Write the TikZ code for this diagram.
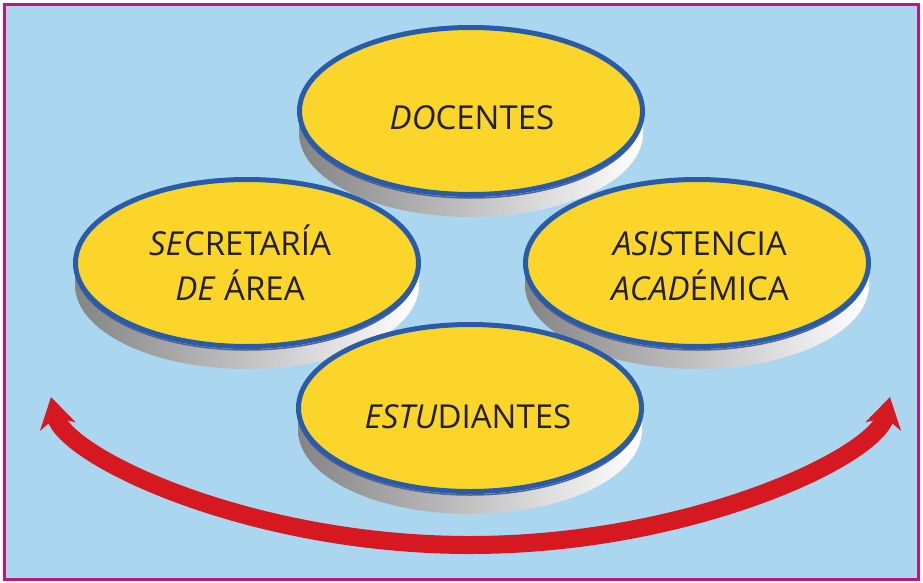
\documentclass[tikz,border=0pt]{standalone}
\usepackage{fontspec}
\setmainfont{Open Sans}
\usetikzlibrary{arrows.meta,shapes.geometric}

\definecolor{cielo}{rgb}{0.67, 0.84, 0.94}
\definecolor{amarillo}{rgb}{0.99, 0.835, 0.17}
\definecolor{azul}{rgb}{0.16, 0.36, 0.66}
\definecolor{pizarra}{rgb}{0.33, 0.38, 0.58}
\definecolor{magenta}{rgb}{0.74, 0.09, 0.50}
\definecolor{rojo}{rgb}{0.84, 0.10, 0.13}
\definecolor{tinta}{rgb}{0.14, 0.12, 0.13}

\tikzset{
	disco/.style={ellipse,draw=azul,line width=5pt,fill=amarillo,
		minimum width=343pt,minimum height=167pt,inner sep=0pt},
	canto/.style={left color=black!48,right color=white},
	sombra/.style={pizarra,line width=1.5pt},
	texto/.style={text=tinta,font=\fontsize{33}{45}\selectfont,align=center,anchor=base},
	flecha/.style={rojo,line width=18pt,
		{Stealth[length=30pt,width=36pt,inset=9pt]}-{Stealth[length=30pt,width=36pt,inset=9pt]}}
}

\begin{document}
\begin{tikzpicture}[x=1pt,y=-1pt]
		\useasboundingbox (0,0) rectangle (923,582);
		\filldraw [line width=3pt,draw=magenta,fill=cielo] (4.5,4) rectangle (918.5,579);
		
		% docentes (back)
		\shade[canto] (299,111) -- (299,133) arc[start angle=180,end angle=360,x radius=172pt,y radius=84pt] -- (643,111) -- cycle;
		\draw[sombra] (299,114) arc[start angle=180,end angle=360,x radius=172pt,y radius=84pt];
		\node[disco] (doc) at (471,111) {};
		\node[texto] (tdoc) at (472,129) {\textit{DO}CENTES};
		
		% secretaria
		\shade[canto] (75,263) -- (75,285) arc[start angle=180,end angle=360,x radius=172pt,y radius=84pt] -- (419,263) -- cycle;
		\draw[sombra] (75,266) arc[start angle=180,end angle=360,x radius=172pt,y radius=84pt];
		\node[disco] (sec) at (247,263) {};
		\node[texto] (tsec) at (240,300) {\textit{SE}CRETARÍA\\\textit{DE} ÁREA};
		
		% asistencia
		\shade[canto] (525,263) -- (525,285) arc[start angle=180,end angle=360,x radius=172pt,y radius=84pt] -- (869,263) -- cycle;
		\draw[sombra] (525,266) arc[start angle=180,end angle=360,x radius=172pt,y radius=84pt];
		\node[disco] (asi) at (697,263) {};
		\node[texto] (tasi) at (700,300) {\textit{ASIS}TENCIA\\\textit{ACAD}ÉMICA};
		
		% estudiantes (front)
		\shade[canto] (298,408) -- (298,430) arc[start angle=180,end angle=360,x radius=172pt,y radius=84pt] -- (642,408) -- cycle;
		\draw[sombra] (298,411) arc[start angle=180,end angle=360,x radius=172pt,y radius=84pt];
		\node[disco] (est) at (470,408) {};
		\node[texto] (test) at (468,428) {\textit{ESTU}DIANTES};
		
		\coordinate (al) at (51,397);
		\coordinate (am) at (470,545);
		\coordinate (ar) at (890,397);
		\draw[flecha] (al) .. controls +(14,60) and +(-220,0) .. (am) .. controls +(220,0) and +(-14,60) .. (ar);
	
	\end{tikzpicture}
\end{document}
